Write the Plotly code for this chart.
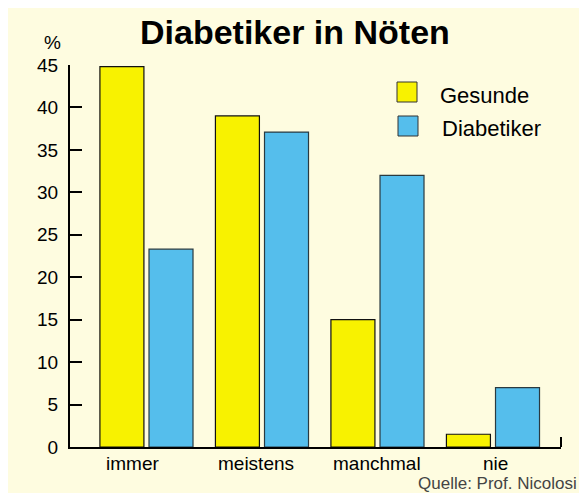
import plotly.graph_objects as go

categories = ["immer", "meistens", "manchmal", "nie"]
gesunde = [44.8, 39.0, 15.0, 1.5]
diabetiker = [23.3, 37.1, 32.0, 7.0]
y_ticks = [0, 5, 10, 15, 20, 25, 30, 35, 40, 45]
# horizontal centres of the category labels (screenshot pixels)
label_centres = [132, 256, 377, 495.5]

W_FIG, H_FIG = 587, 493
OFF = 8  # page body margin offset
# plot area in screenshot pixels: x 70..561, y 65..447
L = 70 - OFF
T = 65 - OFF
R = W_FIG - (561 - OFF)
B = H_FIG - (447 - OFF)
PW = W_FIG - L - R
PH = H_FIG - T - B

def sx(x):
    return (x - OFF - L) / PW

def sy(y):
    return (H_FIG - B - (y - OFF)) / PH

YELLOW = "#F8F200"
BLUE = "#55BEEC"
CREAM = "#FEFCE0"
FONT = "Liberation Sans, Arial, sans-serif"

fig = go.Figure()
fig.add_trace(go.Bar(x=categories, y=gesunde, name="Gesunde",
                     marker=dict(color=YELLOW, line=dict(color="#111", width=1.2)),
                     width=0.381, offset=-0.403, showlegend=False))
fig.add_trace(go.Bar(x=categories, y=diabetiker, name="Diabetiker",
                     marker=dict(color=BLUE, line=dict(color="#2a3a40", width=1.2)),
                     width=0.381, offset=0.022, showlegend=False))

shapes = [
    # right end tick of x axis
    dict(type="line", xref="x domain", yref="paper", x0=1, x1=1, y0=0, y1=sy(437),
         line=dict(color="black", width=2)),
    # legend swatches
    dict(type="rect", xref="paper", yref="paper", x0=sx(397), x1=sx(417), y0=sy(102), y1=sy(82),
         fillcolor=YELLOW, line=dict(color="#333", width=1)),
    dict(type="rect", xref="paper", yref="paper", x0=sx(398), x1=sx(418), y0=sy(136), y1=sy(116),
         fillcolor=BLUE, line=dict(color="#333", width=1)),
]

annotations = [
    dict(text="<b>Diabetiker in Nöten</b>", xref="paper", yref="paper", x=sx(295), y=sy(32),
         xanchor="center", yanchor="middle", showarrow=False,
         font=dict(family=FONT, size=34, color="black")),
    dict(text="%", xref="paper", yref="paper", x=sx(52), y=sy(42),
         xanchor="center", yanchor="middle", showarrow=False,
         font=dict(family=FONT, size=19, color="black")),
    dict(text="Gesunde", xref="paper", yref="paper", x=sx(438), y=sy(95),
         xanchor="left", yanchor="middle", showarrow=False,
         font=dict(family=FONT, size=22, color="black")),
    dict(text="Diabetiker", xref="paper", yref="paper", x=sx(440), y=sy(129),
         xanchor="left", yanchor="middle", showarrow=False,
         font=dict(family=FONT, size=22, color="black")),
    dict(text="Quelle: Prof. Nicolosi", xref="paper", yref="paper", x=sx(579), y=sy(483),
         xanchor="right", yanchor="middle", showarrow=False,
         font=dict(family=FONT, size=17, color="#444")),
]
for cat, cx in zip(categories, label_centres):
    annotations.append(dict(text=cat, xref="paper", yref="paper", x=sx(cx), y=sy(463),
                            xanchor="center", yanchor="middle", showarrow=False,
                            font=dict(family=FONT, size=19, color="black")))

fig.update_layout(
    width=W_FIG, height=H_FIG,
    margin=dict(l=L, r=R, t=T, b=B, pad=0),
    paper_bgcolor=CREAM, plot_bgcolor=CREAM,
    barmode="group",
    shapes=shapes, annotations=annotations,
    font=dict(family=FONT, size=19, color="black"),
    xaxis=dict(type="category", range=[-0.662, 3.589], showgrid=False, zeroline=False,
               showline=True, linecolor="black", linewidth=2, ticks="",
               showticklabels=False, fixedrange=True),
    yaxis=dict(range=[0, 45], tickvals=y_ticks, showgrid=False, zeroline=False,
               showline=True, linecolor="black", linewidth=2,
               ticks="inside", ticklen=12, tickwidth=2, tickcolor="black",
               ticklabelstandoff=6,
               tickfont=dict(family=FONT, size=19, color="black"), fixedrange=True),
)

fig.write_html("out.html")
